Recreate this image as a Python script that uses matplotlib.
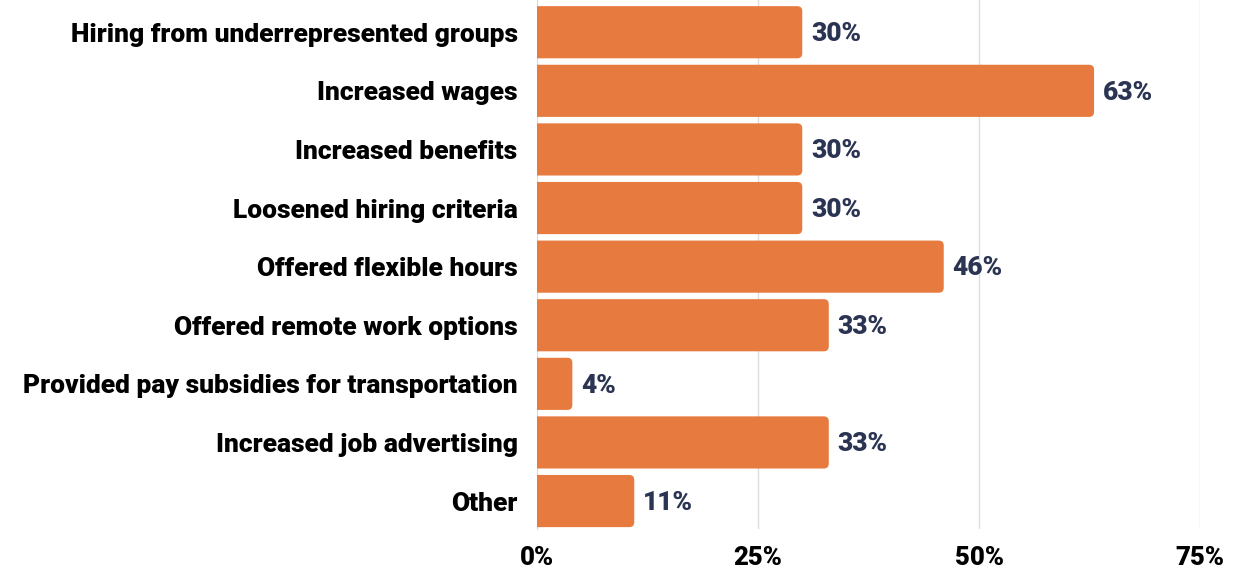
import matplotlib
matplotlib.use('Agg')
import matplotlib.pyplot as plt
from matplotlib.patches import FancyBboxPatch

categories = ['Hiring from underrepresented groups', 'Increased wages', 'Increased benefits',
              'Loosened hiring criteria', 'Offered flexible hours', 'Offered remote work options',
              'Provided pay subsidies for transportation', 'Increased job advertising', 'Other']
values = [30, 63, 30, 30, 46, 33, 4, 33, 11]
ticks = [0, 25, 50, 75]
tick_labels = ['0%', '25%', '50%', '75%']

plt.rcParams['font.family'] = ['Roboto', 'DejaVu Sans']

bar_color = '#E67A3F'
label_color = '#2B3452'

fig = plt.figure(figsize=(12.35, 5.69), dpi=100)
ax = fig.add_axes([0.4348, 0.07, 0.5370, 0.93])

ypos = list(range(len(categories)))
bars = ax.barh(ypos, values, height=0.89, color=bar_color, alpha=0)

ax.set_xlim(0, 75)
ax.set_ylim(8.48, -0.55)

# rounded bar ends; mutation_aspect compensates for the unequal x/y scales
px_x = 663 / 75.0
px_y = 58.6
for b, v in zip(bars, values):
    x0, y0 = b.get_x(), b.get_y()
    h = b.get_height()
    rs = 5 / px_x
    p = FancyBboxPatch((x0 - 2, y0), v + 2, h,
                       boxstyle='round,pad=0,rounding_size=%f' % rs,
                       mutation_aspect=px_x / px_y,
                       facecolor=bar_color, edgecolor='none', zorder=3)
    ax.add_patch(p)
    ax.text(v + 1.0, b.get_y() + h / 2 + 0.03, '%d%%' % v, va='center', ha='left',
            fontsize=19, fontweight='black', color=label_color)

ax.set_yticks(ypos)
ax.set_yticklabels(categories, fontsize=19, fontweight='black', color='black')
ax.set_xticks(ticks)
ax.set_xticklabels(tick_labels, fontsize=18.5, fontweight='black', color='black')
ax.tick_params(axis='both', length=0)
ax.tick_params(axis='y', pad=14)
ax.tick_params(axis='x', pad=12)

ax.grid(axis='x', color='#DDDDDD', linewidth=1, zorder=0)
ax.set_axisbelow(True)
for s in ['top', 'right', 'bottom']:
    ax.spines[s].set_visible(False)
ax.spines['left'].set_color('#DDDDDD')
ax.spines['left'].set_zorder(0)

fig.savefig('out.png', dpi=100)
